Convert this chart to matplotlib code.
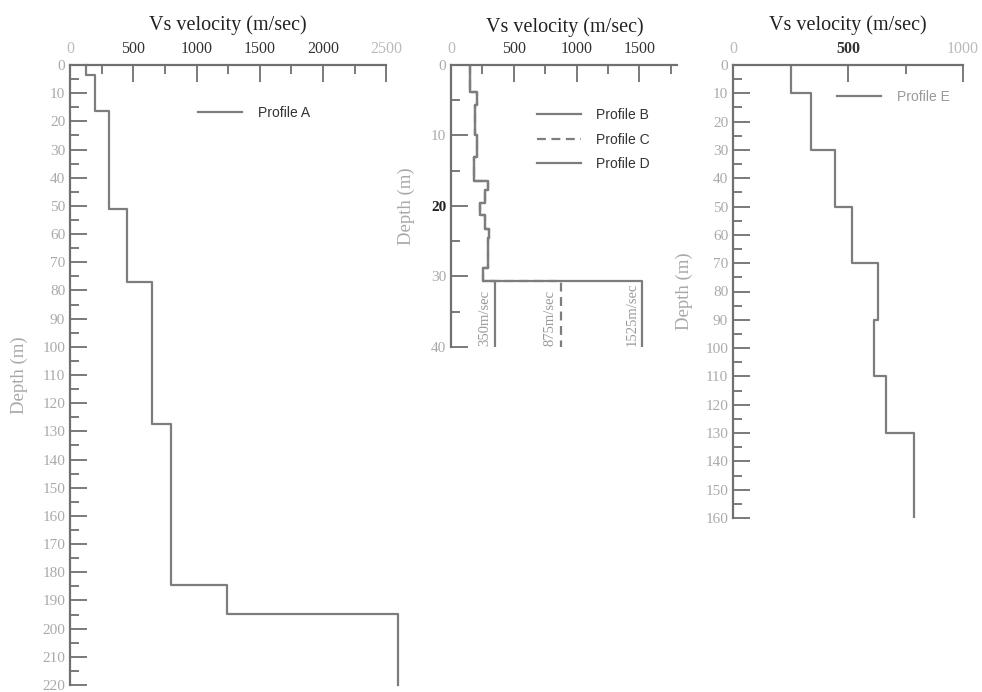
import matplotlib
matplotlib.use('Agg')
import matplotlib.pyplot as plt
import numpy as np
from matplotlib.ticker import MultipleLocator

plt.rcParams['font.family'] = ['Liberation Serif', 'DejaVu Serif']

# Profile A: layer boundaries (m) and Vs of each layer (m/sec)
depth_a = [0, 3.5, 16.4, 51, 77, 127.4, 184.5, 194.8, 220]
vs_a = [125, 200, 310, 448, 650, 795, 1237, 2590]

# Profiles B, C, D share the upper 30.7 m, then differ below
depth_bcd = [0, 3.8, 5.7, 10, 13, 16.5, 17.7, 19.6, 21.3, 23.2, 24.6, 28.8, 30.7, 40]
vs_top = [151, 205, 191, 205, 183, 297, 271, 231, 271, 305, 292, 257]
vs_base = {'Profile B': 350, 'Profile C': 875, 'Profile D': 1525}
base_labels = ['350m/sec', '875m/sec', '1525m/sec']

# Profile E
depth_e = [0, 10, 30, 50, 70, 90, 110, 130, 160]
vs_e = [250, 338, 443, 519, 632, 614, 664, 786]

LINE = '#7d7d7d'
SPINE = '#707070'


def steps(edges, vs):
    # staircase: each velocity held over its depth interval
    y = np.repeat(edges, 2)[1:-1]
    x = np.repeat(vs, 2)
    return x, y


def style_axis(ax, xmax, ymax, xspan, ylab_x):
    ax.set_xlim(0, xmax)
    ax.set_ylim(ymax, 0)
    ax.xaxis.tick_top()
    for s in ['right', 'bottom']:
        ax.spines[s].set_visible(False)
    for s in ['top', 'left']:
        ax.spines[s].set_color(SPINE)
        ax.spines[s].set_linewidth(1.6)
    ax.spines['top'].set_bounds(0, xspan)
    ax.xaxis.set_major_locator(MultipleLocator(500))
    ax.xaxis.set_minor_locator(MultipleLocator(250))
    ax.yaxis.set_major_locator(MultipleLocator(10))
    ax.yaxis.set_minor_locator(MultipleLocator(5))
    ax.tick_params(which='both', direction='in', color=SPINE, width=1.3)
    ax.tick_params(which='major', length=12)
    ax.tick_params(which='minor', length=6.5)
    ax.tick_params(axis='x', which='both', top=True, bottom=False, pad=5.5,
                   labelsize=11.5, labelcolor='#333333')
    ax.tick_params(axis='y', which='both', pad=3.5, labelsize=11, labelcolor='#aaaaaa')
    ax.set_xticks(np.arange(0, xspan + 1, 500))
    ax.set_ylabel('Depth (m)', fontsize=13.5, color='#a8a8a8')
    ax.yaxis.set_label_coords(ylab_x, 0.5)


fig = plt.figure(figsize=(9.82, 6.92), dpi=100)
W, H = 982, 692


def add_axes(left, right, top, bottom):
    return fig.add_axes([left / W, 1 - bottom / H, (right - left) / W, (bottom - top) / H])


# ---- Profile A
ax1 = add_axes(70, 399, 65, 685)
style_axis(ax1, 2600, 220, 2500, -0.128)
x, y = steps(depth_a, vs_a)
ax1.plot(x, y, color=LINE, lw=1.6, label='Profile A', clip_on=False)
leg = ax1.legend(loc='upper left', bbox_to_anchor=(0.389, 0.934), frameon=False,
                 handlelength=3.2, handletextpad=1.1, borderpad=0, borderaxespad=0,
                 prop={'family': 'Liberation Sans', 'size': 10})
for t in leg.get_texts():
    t.set_color('#333333')

# ---- Profiles B, C, D
ax2 = add_axes(451, 677, 65, 347)
style_axis(ax2, 1800, 40, 1800, -0.159)
ax2.set_xticks(np.arange(0, 1501, 500))
order = ['Profile C', 'Profile B', 'Profile D']
handles = {}
for name in order:
    x, y = steps(depth_bcd, vs_top + [vs_base[name]])
    ls = (0, (4, 2.5)) if name == 'Profile C' else '-'
    handles[name], = ax2.plot(x, y, color=LINE, lw=1.6, ls=ls, label=name)
leg = ax2.legend([handles[n] for n in vs_base], list(vs_base), loc='upper left',
                 bbox_to_anchor=(0.379, 0.847), frameon=False,
                 handlelength=3.2, handletextpad=1.1, borderpad=0, borderaxespad=0,
                 labelspacing=0.75, prop={'family': 'Liberation Sans', 'size': 10})
for t in leg.get_texts():
    t.set_color('#333333')
for v, lab in zip(vs_base.values(), base_labels):
    ax2.annotate(lab, xy=(v, 40), xytext=(-3, 0.5), textcoords='offset points',
                 rotation=90, ha='right', va='bottom', fontsize=10.5, color='#999999')
for t in ax2.get_yticklabels():
    if t.get_text() == '20':
        t.set_color('#222222')
        t.set_fontweight('bold')

# ---- Profile E
ax3 = add_axes(733, 963, 65, 518)
style_axis(ax3, 1000, 160, 1000, -0.174)
x, y = steps(depth_e, vs_e)
ax3.plot(x, y, color=LINE, lw=1.6, label='Profile E')
leg = ax3.legend(loc='upper left', bbox_to_anchor=(0.452, 0.945), frameon=False,
                 handlelength=3.2, handletextpad=1.1, borderpad=0, borderaxespad=0,
                 prop={'family': 'Liberation Sans', 'size': 10})
for t in leg.get_texts():
    t.set_color('#999999')

# light end labels on the velocity axes, as in the scanned original
for ax, light in [(ax1, ['0', '2500']), (ax2, ['0']), (ax3, ['0', '1000'])]:
    fig.canvas.draw()
    for t in ax.get_xticklabels():
        if t.get_text() in light:
            t.set_color('#bbbbbb')
for t in ax3.get_xticklabels():
    if t.get_text() == '500':
        t.set_fontweight('bold')

# velocity axis titles
for xc, yc in [(228, 25), (565, 27), (848, 25.5)]:
    fig.text(xc / W, 1 - yc / H, 'Vs velocity (m/sec)', ha='center', va='center',
             fontsize=14.5, color='#222222')

fig.savefig('out.png', dpi=100, facecolor='white')
